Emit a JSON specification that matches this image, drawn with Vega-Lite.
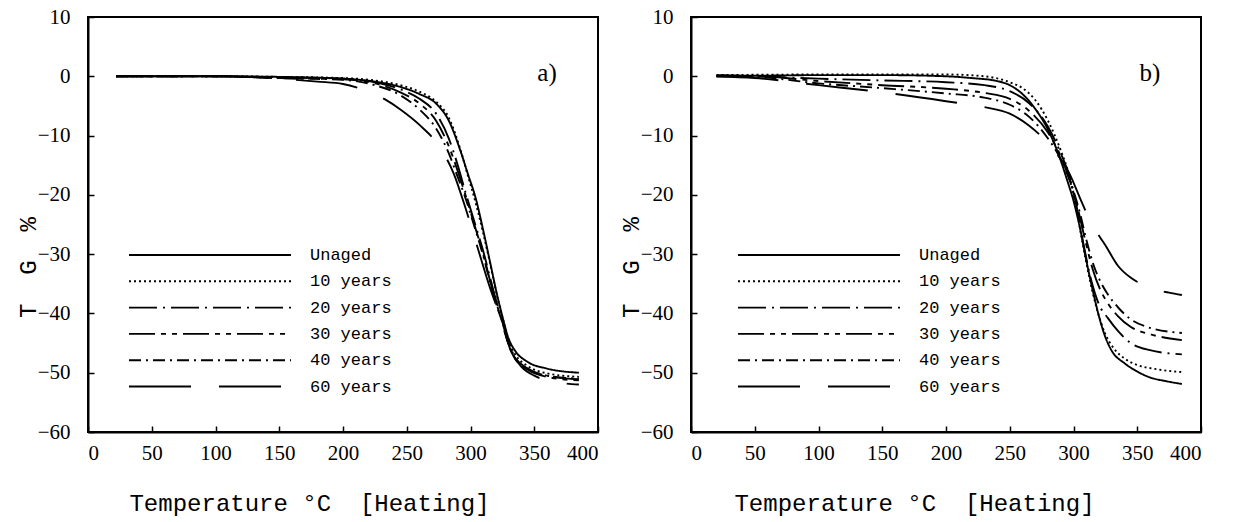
{
 "$schema": "https://vega.github.io/schema/vega-lite/v6.json",
 "padding": {"left": 15, "top": 5, "right": 20, "bottom": 5},
 "bounds": "flush",
 "spacing": 93,
 "config": {
  "view": {"stroke": "black", "strokeWidth": 2},
  "font": "Liberation Mono",
  "axis": {"grid": false, "domainColor": "black", "domainWidth": 2, "tickColor": "black", "tickWidth": 1.5, "tickSize": -6,
   "labelFont": "Liberation Serif", "labelFontSize": 21, "labelColor": "black",
   "titleFont": "Liberation Mono", "titleFontSize": 24, "titleFontWeight": "normal", "titleColor": "black"},
  "legend": {"orient": "none", "symbolType": "stroke", "symbolSize": 26244, "symbolStrokeWidth": 1.9, "symbolStrokeColor": "black",
   "clipHeight": 24, "rowPadding": 2.3, "labelOffset": 18, "labelFont": "Liberation Mono", "labelFontSize": 17, "labelColor": "black", "padding": 0, "title": null}
 },
 "resolve": {"legend": {"strokeDash": "independent"}},
 "datasets": {
  "tg": [
   {"p":"a","s":"Unaged","t":22,"v":0},{"p":"a","s":"Unaged","t":100,"v":0},{"p":"a","s":"Unaged","t":150,"v":-0.1},{"p":"a","s":"Unaged","t":200,"v":-0.4},{"p":"a","s":"Unaged","t":225,"v":-0.9},{"p":"a","s":"Unaged","t":245,"v":-1.8},{"p":"a","s":"Unaged","t":260,"v":-3},{"p":"a","s":"Unaged","t":273,"v":-4.6},{"p":"a","s":"Unaged","t":283,"v":-7.5},{"p":"a","s":"Unaged","t":292,"v":-12.5},{"p":"a","s":"Unaged","t":298,"v":-16.5},{"p":"a","s":"Unaged","t":304,"v":-20.5},{"p":"a","s":"Unaged","t":310,"v":-26},{"p":"a","s":"Unaged","t":316,"v":-32},{"p":"a","s":"Unaged","t":321,"v":-37},{"p":"a","s":"Unaged","t":325,"v":-40.5},{"p":"a","s":"Unaged","t":330,"v":-44.3},{"p":"a","s":"Unaged","t":335,"v":-46.3},{"p":"a","s":"Unaged","t":345,"v":-48.2},{"p":"a","s":"Unaged","t":360,"v":-49.3},{"p":"a","s":"Unaged","t":385,"v":-50},
   {"p":"a","s":"10 years","t":22,"v":0},{"p":"a","s":"10 years","t":100,"v":0},{"p":"a","s":"10 years","t":150,"v":-0.1},{"p":"a","s":"10 years","t":200,"v":-0.3},{"p":"a","s":"10 years","t":225,"v":-0.7},{"p":"a","s":"10 years","t":245,"v":-1.5},{"p":"a","s":"10 years","t":260,"v":-2.6},{"p":"a","s":"10 years","t":273,"v":-4.3},{"p":"a","s":"10 years","t":283,"v":-7},{"p":"a","s":"10 years","t":292,"v":-12.3},{"p":"a","s":"10 years","t":298,"v":-16.8},{"p":"a","s":"10 years","t":304,"v":-21.3},{"p":"a","s":"10 years","t":310,"v":-26.5},{"p":"a","s":"10 years","t":316,"v":-32.2},{"p":"a","s":"10 years","t":321,"v":-37.2},{"p":"a","s":"10 years","t":325,"v":-40.6},{"p":"a","s":"10 years","t":330,"v":-44.7},{"p":"a","s":"10 years","t":335,"v":-46.9},{"p":"a","s":"10 years","t":345,"v":-48.9},{"p":"a","s":"10 years","t":360,"v":-50.1},{"p":"a","s":"10 years","t":385,"v":-50.7},
   {"p":"a","s":"20 years","t":22,"v":0},{"p":"a","s":"20 years","t":100,"v":0},{"p":"a","s":"20 years","t":150,"v":-0.2},{"p":"a","s":"20 years","t":200,"v":-0.4},{"p":"a","s":"20 years","t":225,"v":-1},{"p":"a","s":"20 years","t":245,"v":-2.2},{"p":"a","s":"20 years","t":260,"v":-3.8},{"p":"a","s":"20 years","t":273,"v":-6.3},{"p":"a","s":"20 years","t":283,"v":-10.5},{"p":"a","s":"20 years","t":290,"v":-15},{"p":"a","s":"20 years","t":296,"v":-19.5},{"p":"a","s":"20 years","t":303,"v":-24.5},{"p":"a","s":"20 years","t":310,"v":-29.5},{"p":"a","s":"20 years","t":316,"v":-34.5},{"p":"a","s":"20 years","t":321,"v":-38.5},{"p":"a","s":"20 years","t":325,"v":-41.3},{"p":"a","s":"20 years","t":330,"v":-45},{"p":"a","s":"20 years","t":335,"v":-47.4},{"p":"a","s":"20 years","t":345,"v":-49.3},{"p":"a","s":"20 years","t":360,"v":-50.5},{"p":"a","s":"20 years","t":385,"v":-51.1},
   {"p":"a","s":"30 years","t":22,"v":0},{"p":"a","s":"30 years","t":100,"v":0},{"p":"a","s":"30 years","t":150,"v":-0.3},{"p":"a","s":"30 years","t":200,"v":-0.5},{"p":"a","s":"30 years","t":225,"v":-1.2},{"p":"a","s":"30 years","t":245,"v":-2.7},{"p":"a","s":"30 years","t":260,"v":-4.6},{"p":"a","s":"30 years","t":273,"v":-7.5},{"p":"a","s":"30 years","t":283,"v":-11.8},{"p":"a","s":"30 years","t":290,"v":-16},{"p":"a","s":"30 years","t":296,"v":-20},{"p":"a","s":"30 years","t":303,"v":-25},{"p":"a","s":"30 years","t":310,"v":-30},{"p":"a","s":"30 years","t":316,"v":-35},{"p":"a","s":"30 years","t":321,"v":-38.8},{"p":"a","s":"30 years","t":325,"v":-41.4},{"p":"a","s":"30 years","t":330,"v":-45.2},{"p":"a","s":"30 years","t":335,"v":-47.6},{"p":"a","s":"30 years","t":345,"v":-49.5},{"p":"a","s":"30 years","t":360,"v":-50.7},{"p":"a","s":"30 years","t":385,"v":-51.3},
   {"p":"a","s":"40 years","t":22,"v":0},{"p":"a","s":"40 years","t":100,"v":0},{"p":"a","s":"40 years","t":150,"v":-0.3},{"p":"a","s":"40 years","t":200,"v":-0.6},{"p":"a","s":"40 years","t":225,"v":-1.5},{"p":"a","s":"40 years","t":245,"v":-3.2},{"p":"a","s":"40 years","t":260,"v":-5.6},{"p":"a","s":"40 years","t":273,"v":-8.8},{"p":"a","s":"40 years","t":283,"v":-13},{"p":"a","s":"40 years","t":290,"v":-17},{"p":"a","s":"40 years","t":296,"v":-20.5},{"p":"a","s":"40 years","t":303,"v":-25.3},{"p":"a","s":"40 years","t":310,"v":-30.3},{"p":"a","s":"40 years","t":316,"v":-35.2},{"p":"a","s":"40 years","t":321,"v":-39},{"p":"a","s":"40 years","t":325,"v":-41.5},{"p":"a","s":"40 years","t":330,"v":-45.3},{"p":"a","s":"40 years","t":335,"v":-47.5},{"p":"a","s":"40 years","t":345,"v":-49.4},{"p":"a","s":"40 years","t":360,"v":-50.5},{"p":"a","s":"40 years","t":385,"v":-51},
   {"p":"a","s":"60 years","t":22,"v":0},{"p":"a","s":"60 years","t":100,"v":0},{"p":"a","s":"60 years","t":150,"v":-0.4},{"p":"a","s":"60 years","t":180,"v":-0.9},{"p":"a","s":"60 years","t":200,"v":-1.3},{"p":"a","s":"60 years","t":215,"v":-2.2},{"p":"a","s":"60 years","t":233,"v":-3.9},{"p":"a","s":"60 years","t":245,"v":-5.6},{"p":"a","s":"60 years","t":260,"v":-8.2},{"p":"a","s":"60 years","t":275,"v":-11.7},{"p":"a","s":"60 years","t":287,"v":-16.5},{"p":"a","s":"60 years","t":295,"v":-21.5},{"p":"a","s":"60 years","t":305,"v":-28.5},{"p":"a","s":"60 years","t":315,"v":-35.5},{"p":"a","s":"60 years","t":322,"v":-39.8},{"p":"a","s":"60 years","t":327,"v":-43.3},{"p":"a","s":"60 years","t":332,"v":-46.5},{"p":"a","s":"60 years","t":340,"v":-49},{"p":"a","s":"60 years","t":350,"v":-50.5},{"p":"a","s":"60 years","t":365,"v":-51.5},{"p":"a","s":"60 years","t":385,"v":-52},

   {"p":"b","s":"Unaged","t":20,"v":0.2},{"p":"b","s":"Unaged","t":50,"v":0.1},{"p":"b","s":"Unaged","t":100,"v":0.2},{"p":"b","s":"Unaged","t":150,"v":0.2},{"p":"b","s":"Unaged","t":200,"v":0},{"p":"b","s":"Unaged","t":220,"v":-0.3},{"p":"b","s":"Unaged","t":240,"v":-0.8},{"p":"b","s":"Unaged","t":250,"v":-1.5},{"p":"b","s":"Unaged","t":260,"v":-3},{"p":"b","s":"Unaged","t":270,"v":-5.5},{"p":"b","s":"Unaged","t":280,"v":-9},{"p":"b","s":"Unaged","t":288,"v":-13},{"p":"b","s":"Unaged","t":295,"v":-17.5},{"p":"b","s":"Unaged","t":300,"v":-21},{"p":"b","s":"Unaged","t":305,"v":-25.5},{"p":"b","s":"Unaged","t":310,"v":-31},{"p":"b","s":"Unaged","t":315,"v":-36},{"p":"b","s":"Unaged","t":320,"v":-40.5},{"p":"b","s":"Unaged","t":325,"v":-44},{"p":"b","s":"Unaged","t":330,"v":-46.3},{"p":"b","s":"Unaged","t":340,"v":-48.4},{"p":"b","s":"Unaged","t":350,"v":-49.8},{"p":"b","s":"Unaged","t":360,"v":-50.8},{"p":"b","s":"Unaged","t":372,"v":-51.4},{"p":"b","s":"Unaged","t":385,"v":-51.9},
   {"p":"b","s":"10 years","t":20,"v":0.2},{"p":"b","s":"10 years","t":100,"v":0.3},{"p":"b","s":"10 years","t":200,"v":0.3},{"p":"b","s":"10 years","t":230,"v":0},{"p":"b","s":"10 years","t":250,"v":-1},{"p":"b","s":"10 years","t":260,"v":-2},{"p":"b","s":"10 years","t":270,"v":-4},{"p":"b","s":"10 years","t":280,"v":-7.5},{"p":"b","s":"10 years","t":290,"v":-12.5},{"p":"b","s":"10 years","t":297,"v":-17},{"p":"b","s":"10 years","t":302,"v":-22},{"p":"b","s":"10 years","t":307,"v":-28},{"p":"b","s":"10 years","t":312,"v":-33.5},{"p":"b","s":"10 years","t":318,"v":-39},{"p":"b","s":"10 years","t":325,"v":-43.5},{"p":"b","s":"10 years","t":332,"v":-46},{"p":"b","s":"10 years","t":340,"v":-47.6},{"p":"b","s":"10 years","t":350,"v":-48.7},{"p":"b","s":"10 years","t":365,"v":-49.4},{"p":"b","s":"10 years","t":385,"v":-49.9},
   {"p":"b","s":"20 years","t":20,"v":0.1},{"p":"b","s":"20 years","t":50,"v":0},{"p":"b","s":"20 years","t":100,"v":-0.4},{"p":"b","s":"20 years","t":150,"v":-0.7},{"p":"b","s":"20 years","t":200,"v":-1},{"p":"b","s":"20 years","t":230,"v":-1.5},{"p":"b","s":"20 years","t":250,"v":-2.5},{"p":"b","s":"20 years","t":265,"v":-4.5},{"p":"b","s":"20 years","t":280,"v":-8.5},{"p":"b","s":"20 years","t":290,"v":-13},{"p":"b","s":"20 years","t":297,"v":-17},{"p":"b","s":"20 years","t":302,"v":-21.5},{"p":"b","s":"20 years","t":308,"v":-28.5},{"p":"b","s":"20 years","t":314,"v":-34.5},{"p":"b","s":"20 years","t":320,"v":-38.5},{"p":"b","s":"20 years","t":327,"v":-40.8},{"p":"b","s":"20 years","t":335,"v":-43},{"p":"b","s":"20 years","t":345,"v":-45},{"p":"b","s":"20 years","t":360,"v":-46.2},{"p":"b","s":"20 years","t":385,"v":-46.9},
   {"p":"b","s":"30 years","t":20,"v":0},{"p":"b","s":"30 years","t":50,"v":0},{"p":"b","s":"30 years","t":100,"v":-0.8},{"p":"b","s":"30 years","t":150,"v":-1.5},{"p":"b","s":"30 years","t":200,"v":-2.1},{"p":"b","s":"30 years","t":230,"v":-2.8},{"p":"b","s":"30 years","t":250,"v":-3.8},{"p":"b","s":"30 years","t":265,"v":-5.8},{"p":"b","s":"30 years","t":280,"v":-9.5},{"p":"b","s":"30 years","t":290,"v":-13.5},{"p":"b","s":"30 years","t":297,"v":-17.5},{"p":"b","s":"30 years","t":303,"v":-22},{"p":"b","s":"30 years","t":309,"v":-27.5},{"p":"b","s":"30 years","t":315,"v":-32.5},{"p":"b","s":"30 years","t":321,"v":-36},{"p":"b","s":"30 years","t":327,"v":-38.3},{"p":"b","s":"30 years","t":335,"v":-40.5},{"p":"b","s":"30 years","t":345,"v":-42.3},{"p":"b","s":"30 years","t":360,"v":-43.5},{"p":"b","s":"30 years","t":385,"v":-44.5},
   {"p":"b","s":"40 years","t":20,"v":0},{"p":"b","s":"40 years","t":50,"v":-0.1},{"p":"b","s":"40 years","t":100,"v":-1.2},{"p":"b","s":"40 years","t":150,"v":-2},{"p":"b","s":"40 years","t":200,"v":-2.9},{"p":"b","s":"40 years","t":230,"v":-3.6},{"p":"b","s":"40 years","t":250,"v":-4.8},{"p":"b","s":"40 years","t":265,"v":-6.8},{"p":"b","s":"40 years","t":280,"v":-10.5},{"p":"b","s":"40 years","t":290,"v":-14},{"p":"b","s":"40 years","t":297,"v":-17.5},{"p":"b","s":"40 years","t":305,"v":-23},{"p":"b","s":"40 years","t":310,"v":-27.5},{"p":"b","s":"40 years","t":316,"v":-32},{"p":"b","s":"40 years","t":322,"v":-35},{"p":"b","s":"40 years","t":327,"v":-36.8},{"p":"b","s":"40 years","t":335,"v":-39},{"p":"b","s":"40 years","t":345,"v":-41},{"p":"b","s":"40 years","t":358,"v":-42.3},{"p":"b","s":"40 years","t":385,"v":-43.3},
   {"p":"b","s":"60 years","t":20,"v":0},{"p":"b","s":"60 years","t":50,"v":-0.3},{"p":"b","s":"60 years","t":100,"v":-1.5},{"p":"b","s":"60 years","t":150,"v":-2.7},{"p":"b","s":"60 years","t":200,"v":-4.2},{"p":"b","s":"60 years","t":230,"v":-5.2},{"p":"b","s":"60 years","t":250,"v":-6.3},{"p":"b","s":"60 years","t":265,"v":-8.3},{"p":"b","s":"60 years","t":280,"v":-11.3},{"p":"b","s":"60 years","t":290,"v":-14},{"p":"b","s":"60 years","t":297,"v":-16.5},{"p":"b","s":"60 years","t":305,"v":-20.5},{"p":"b","s":"60 years","t":314,"v":-24.8},{"p":"b","s":"60 years","t":325,"v":-28.5},{"p":"b","s":"60 years","t":335,"v":-32},{"p":"b","s":"60 years","t":345,"v":-34},{"p":"b","s":"60 years","t":355,"v":-35.2},{"p":"b","s":"60 years","t":365,"v":-36},{"p":"b","s":"60 years","t":375,"v":-36.5},{"p":"b","s":"60 years","t":385,"v":-36.9}
  ],
  "labels": [{"p": "a", "label": "a)"}, {"p": "b", "label": "b)"}]
 },
 "hconcat": [
  {
   "width": 510, "height": 415,
   "layer": [
    {
     "data": {"name": "tg"},
     "transform": [{"filter": "datum.p === 'a'"}],
     "mark": {"type": "line", "color": "black", "strokeWidth": 1.9, "interpolate": "monotone"},
     "encoding": {
      "x": {"field": "t", "type": "quantitative", "scale": {"domain": [0, 400], "nice": false},
            "axis": {"values": [0,50,100,150,200,250,300,350,400], "title": "Temperature °C\u00a0\u00a0[Heating]", "labelPadding": 16, "titlePadding": 28, "titleX": 221}},
      "y": {"field": "v", "type": "quantitative", "scale": {"domain": [-60, 10], "nice": false},
            "axis": {"values": [-60,-50,-40,-30,-20,-10,0,10], "title": "T\u00a0\u00a0G\u00a0\u00a0%", "labelPadding": 24, "titleX": -60, "titleY": 250, "titleBaseline": "middle"}},
      "strokeDash": {"field": "s", "type": "nominal",
        "scale": {"domain": ["Unaged","10 years","20 years","30 years","40 years","60 years"], "range": [[1,0],[2,3],[28,6,2,6],[26,6,5,6,5,6],[12,5,2,5],[62,28]]},
        "legend": {"legendX": 40, "legendY": 226}},
      "detail": {"field": "s"}
     }
    },
    {
     "data": {"name": "labels"},
     "transform": [{"filter": "datum.p === 'a'"}],
     "mark": {"type": "text", "font": "Liberation Serif", "fontSize": 25, "align": "center", "baseline": "middle", "color": "black"},
     "encoding": {"x": {"datum": 360}, "y": {"datum": 0.5}, "text": {"field": "label"}}
    }
   ]
  },
  {
   "width": 510, "height": 415,
   "layer": [
    {
     "data": {"name": "tg"},
     "transform": [{"filter": "datum.p === 'b'"}],
     "mark": {"type": "line", "color": "black", "strokeWidth": 1.9, "interpolate": "monotone"},
     "encoding": {
      "x": {"field": "t", "type": "quantitative", "scale": {"domain": [0, 400], "nice": false},
            "axis": {"values": [0,50,100,150,200,250,300,350,400], "title": "Temperature °C\u00a0\u00a0[Heating]", "labelPadding": 16, "titlePadding": 28, "titleX": 223}},
      "y": {"field": "v", "type": "quantitative", "scale": {"domain": [-60, 10], "nice": false},
            "axis": {"values": [-60,-50,-40,-30,-20,-10,0,10], "title": "T\u00a0\u00a0G\u00a0\u00a0%", "labelPadding": 24, "titleX": -60, "titleY": 250, "titleBaseline": "middle"}},
      "strokeDash": {"field": "s", "type": "nominal",
        "scale": {"domain": ["Unaged","10 years","20 years","30 years","40 years","60 years"], "range": [[1,0],[2,3],[28,6,2,6],[26,6,5,6,5,6],[12,5,2,5],[62,28]]},
        "legend": {"legendX": 46, "legendY": 226}},
      "detail": {"field": "s"}
     }
    },
    {
     "data": {"name": "labels"},
     "transform": [{"filter": "datum.p === 'b'"}],
     "mark": {"type": "text", "font": "Liberation Serif", "fontSize": 25, "align": "center", "baseline": "middle", "color": "black"},
     "encoding": {"x": {"datum": 360}, "y": {"datum": 0.5}, "text": {"field": "label"}}
    }
   ]
  }
 ]
}
